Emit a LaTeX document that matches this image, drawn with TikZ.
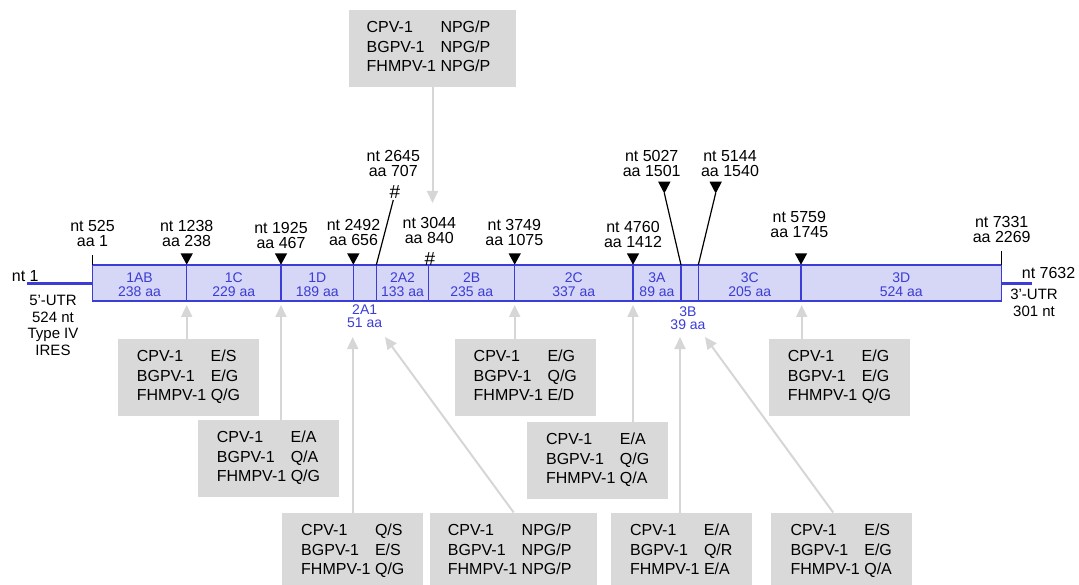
\documentclass[tikz,border=0pt]{standalone}
\usepackage{fontspec}
\setmainfont{Liberation Sans}
\usetikzlibrary{arrows.meta}
\definecolor{segblue}{RGB}{60,60,214}
\definecolor{segfill}{RGB}{214,214,246}
\definecolor{boxgray}{RGB}{217,217,217}
\definecolor{linegray}{RGB}{214,214,214}
\setlength{\parindent}{0pt}
\newcommand{\siterows}[4][0pt]{\begin{tabular}{@{}l@{\hspace{4.5pt}}l@{\hspace{#1}}}CPV-1 & #2\\ BGPV-1 & #3\\ FHMPV-1 & #4\end{tabular}}

\begin{document}
\begin{tikzpicture}[x=1pt, y=-1pt, >={Triangle[length=12pt,width=11pt]},
  seg/.style={draw=segblue, fill=segfill, line width=1.3pt},
  seglabel/.style={text=segblue, font=\fontsize{14}{13.4}\selectfont, align=center, inner sep=0pt, anchor=south},
  site/.style={font=\fontsize{16}{15}\selectfont, align=center, inner sep=0pt, anchor=south},
  hash/.style={anchor=base, inner sep=0pt, font=\fontsize{19}{15}\selectfont},
  utr/.style={font=\fontsize{15}{16.7}\selectfont, align=center, inner sep=0pt},
  cutbox/.style={fill=boxgray, minimum width=141pt, minimum height=77pt, inner sep=0pt, font=\fontsize{16}{19.5}\selectfont},
  widebox/.style={cutbox, minimum width=167pt},
  cut/.style={draw=linegray, line width=2pt, ->}]
\useasboundingbox (0,0) rectangle (1079,585);

\draw[segblue, line width=3pt] (27.3,283.3) -- (92.3,283.3);
\draw[segblue, line width=3pt] (1001.7,283.7) -- (1031.7,283.7);

\foreach \a/\b in {92.3/186.7, 186.7/281, 281/353.3, 353.3/376.3, 376.3/428.7, 428.7/514.7, 514.7/633, 633/681, 681/698.3, 698.3/801, 801/1001.7}
  \draw[seg] (\a,265) rectangle (\b,301);

\foreach \x/\nm/\len in {139.5/1AB/238, 233.8/1C/229, 317.2/1D/189, 402.5/2A2/133, 471.7/2B/235, 573.8/2C/337, 657/3A/89, 749.7/3C/205, 901.3/3D/524}
  \node[seglabel] (seg\nm) at (\x,296.7) {\nm\\\len\ aa};
\node[seglabel] (seg2A1) at (364.7,328.3) {2A1\\51 aa};
\node[seglabel] (seg3B) at (688,330) {3B\\39 aa};

\node[anchor=base west, inner sep=0pt, font=\fontsize{16}{15}\selectfont] (nt1) at (11.7,281.7) {nt 1};
\node[anchor=base west, inner sep=0pt, font=\fontsize{16}{15}\selectfont] (nt7632) at (1021.7,278.3) {nt 7632};
\node[utr, anchor=north] (utr5) at (53,295) {5'-UTR\\524 nt\\Type IV\\IRES};
\node[utr, anchor=north] (utr3) at (1034,289) {3'-UTR\\301 nt};

\draw[line width=1.2pt] (92.3,255) -- (92.3,265);
\draw[line width=1.2pt] (1001.7,251) -- (1001.7,265);

\foreach \x in {186.7, 281, 353.3, 514.7, 633, 801}
  \fill (\x-6.2,253.3) -- (\x+6.2,253.3) -- (\x,264.7) -- cycle;
\foreach \x in {664.3, 715.7}
  \fill (\x-6.2,181.7) -- (\x+6.2,181.7) -- (\x,193.5) -- cycle;
\draw[line width=1.2pt] (664.3,193) -- (681,265);
\draw[line width=1.2pt] (715.7,193) -- (698.3,265);
\draw[line width=1.2pt] (393.3,200) -- (376.3,265);

\node[site] (s525) at (92.5,246.7) {nt 525\\aa 1};
\node[site] (s1238) at (186.7,246.5) {nt 1238\\aa 238};
\node[site] (s1925) at (281,249.3) {nt 1925\\aa 467};
\node[site] (s2492) at (353.5,246) {nt 2492\\aa 656};
\node[site] (s2645) at (393.3,176.7) {nt 2645\\aa 707};
\node[site] (s3044) at (429.3,244) {nt 3044\\aa 840};
\node[site] (s3749) at (514.3,246) {nt 3749\\aa 1075};
\node[site] (s4760) at (633,247.7) {nt 4760\\aa 1412};
\node[site] (s5027) at (651.7,176.7) {nt 5027\\aa 1501};
\node[site] (s5144) at (730,176.7) {nt 5144\\aa 1540};
\node[site] (s5759) at (799.3,238.3) {nt 5759\\aa 1745};
\node[site] (s7331) at (1001.7,243.3) {nt 7331\\aa 2269};
\node[hash] (hash2645) at (395,198.5) {\#};
\node[hash] (hash3044) at (430,266) {\#};

\coordinate (t1C) at (186.7,305);
\coordinate (t1D) at (281,305);
\coordinate (t2A1) at (352.7,337);
\coordinate (t2A2) at (385,337);
\coordinate (t2B) at (432.5,203);
\coordinate (t2C) at (514.7,305);
\coordinate (t3A) at (633,305);
\coordinate (t3B) at (680,337);
\coordinate (t3C) at (705,337);
\coordinate (t3D) at (801.7,305);

\node[cutbox] (bx1C) at (188.5,377.5) {\siterows{E/S}{E/G}{Q/G}};
\node[cutbox] (bx1D) at (268.5,458.5) {\siterows{E/A}{Q/A}{Q/G}};
\node[cutbox] (bx2A1) at (352.8,551.2) {\siterows{Q/S}{E/S}{Q/G}};
\node[widebox] (bx2A2) at (513.7,551.2) {\siterows[8pt]{NPG/P}{NPG/P}{NPG/P}};
\node[widebox] (bx2B) at (432.5,48.3) {\siterows[8pt]{NPG/P}{NPG/P}{NPG/P}};
\node[cutbox] (bx2C) at (525.3,377.3) {\siterows{E/G}{Q/G}{E/D}};
\node[cutbox] (bx3A) at (597.7,460.3) {\siterows{E/A}{Q/G}{Q/A}};
\node[cutbox] (bx3B) at (681.3,551.2) {\siterows{E/A}{Q/R}{E/A}};
\node[cutbox] (bx3C) at (841.2,551.2) {\siterows{E/S}{E/G}{Q/A}};
\node[cutbox] (bx3D) at (839.5,377.3) {\siterows{E/G}{E/G}{Q/G}};

\draw[cut] (bx1C.north -| t1C) -- (t1C);
\draw[cut] (bx1D.north -| t1D) -- (t1D);
\draw[cut] (bx2A1.north -| t2A1) -- (t2A1);
\draw[cut] (bx2A2.north) -- (t2A2);
\draw[cut] (bx2B.south) -- (t2B);
\draw[cut] (bx2C.north -| t2C) -- (t2C);
\draw[cut] (bx3A.north -| t3A) -- (t3A);
\draw[cut] (bx3B.north -| t3B) -- (t3B);
\draw[cut] ([xshift=-8pt]bx3C.north) -- (t3C);
\draw[cut] (bx3D.north -| t3D) -- (t3D);
\end{tikzpicture}
\end{document}
